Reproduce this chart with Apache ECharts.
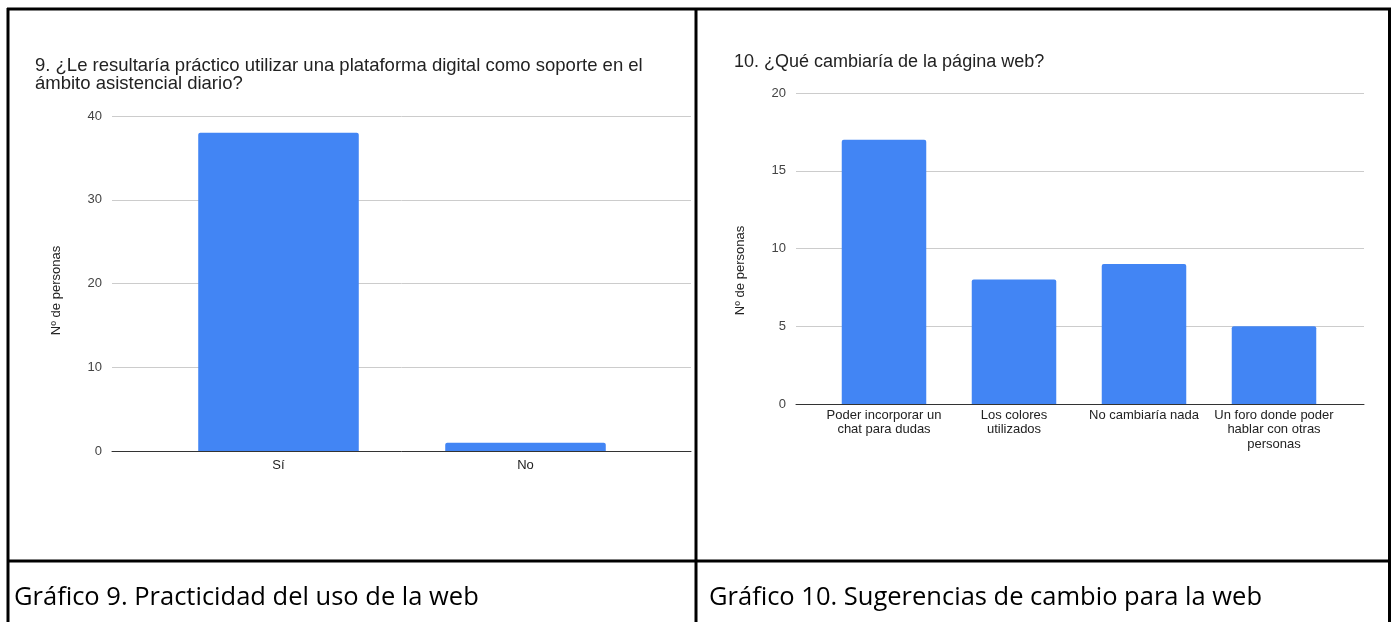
<!DOCTYPE html>
<html>
<head>
<meta charset="utf-8">
<script src="https://cdn.jsdelivr.net/npm/echarts@6/dist/echarts.min.js"></script>
<style>
html,body{margin:0;padding:0;background:#fff;}
#c{width:1396px;height:622px;}
</style>
</head>
<body>
<div id="c"></div>
<script>
// Chart 9 data
const cats9 = ['Sí', 'No'];
const vals9 = [38, 1];
const title9 = '9. ¿Le resultaría práctico utilizar una plataforma digital como soporte en el\námbito asistencial diario?';
const caption9 = 'Gráfico 9. Practicidad del uso de la web';

// Chart 10 data
const cats10 = ['Poder incorporar un chat para dudas', 'Los colores utilizados', 'No cambiaría nada', 'Un foro donde poder hablar con otras personas'];
const tickLabels10 = ['Poder incorporar un\nchat para dudas', 'Los colores\nutilizados', 'No cambiaría nada', 'Un foro donde poder\nhablar con otras\npersonas'];
const vals10 = [17, 8, 9, 5];
const title10 = '10. ¿Qué cambiaría de la página web?';
const caption10 = 'Gráfico 10. Sugerencias de cambio para la web';

const yName = 'Nº de personas';
const FONT = '"Liberation Sans", Arial, sans-serif';
const CAPFONT = '"Open Sans", "Noto Sans", sans-serif';
const BLUE = '#4285f4';

const chart = echarts.init(document.getElementById('c'), null, {renderer: 'canvas'});

const lbl = {color: '#444', fontFamily: FONT, fontSize: 13};

const option = {
  animation: false,
  backgroundColor: '#fff',
  title: [
    {text: title9, left: 30, top: 52, textStyle: {fontFamily: FONT, fontSize: 18.5, fontWeight: 'normal', color: '#222', lineHeight: 18}},
    {text: title10, left: 729, top: 48, textStyle: {fontFamily: FONT, fontSize: 18, fontWeight: 'normal', color: '#222', lineHeight: 18}},
    {text: caption9, left: 9, top: 578, textStyle: {fontFamily: CAPFONT, fontSize: 25.5, fontWeight: 'normal', color: '#000', lineHeight: 30}},
    {text: caption10, left: 704, top: 578, textStyle: {fontFamily: CAPFONT, fontSize: 25.5, fontWeight: 'normal', color: '#000', lineHeight: 30}}
  ],
  grid: [
    {left: 112, right: 705, top: 116, bottom: 171},   // chart 9 frame
    {left: 155, right: 747, top: 116, bottom: 171},   // chart 9 bars
    {left: 796, right: 32, top: 93, bottom: 218},     // chart 10 frame
    {left: 819, right: 57, top: 93, bottom: 218}      // chart 10 bars
  ],
  xAxis: [
    {type: 'category', gridIndex: 0, data: cats9, axisLabel: {show: false}, axisTick: {show: false},
     axisLine: {lineStyle: {color: '#333', width: 1}}, z: 3},
    {type: 'category', gridIndex: 1, data: cats9, axisTick: {show: false}, axisLine: {show: false},
     axisLabel: {color: '#222', fontFamily: FONT, fontSize: 13, margin: 8}},
    {type: 'category', gridIndex: 2, data: cats10, axisLabel: {show: false}, axisTick: {show: false},
     axisLine: {lineStyle: {color: '#333', width: 1}}, z: 3},
    {type: 'category', gridIndex: 3, data: cats10, axisTick: {show: false}, axisLine: {show: false},
     axisLabel: {color: '#222', fontFamily: FONT, fontSize: 13, margin: 4, lineHeight: 14.5, interval: 0,
       formatter: (v, i) => tickLabels10[i]}}
  ],
  yAxis: [
    {type: 'value', gridIndex: 0, min: 0, max: 40, interval: 10,
     axisLabel: Object.assign({margin: 10}, lbl), axisLine: {show: false}, axisTick: {show: false},
     splitLine: {lineStyle: {color: '#ccc'}},
     name: yName, nameLocation: 'middle', nameGap: 49, nameRotate: 90,
     nameTextStyle: {color: '#222', fontFamily: FONT, fontSize: 13, padding: [0, 14, 0, 0]}},
    {type: 'value', gridIndex: 1, min: 0, max: 40, interval: 10, show: false},
    {type: 'value', gridIndex: 2, min: 0, max: 20, interval: 5,
     axisLabel: Object.assign({margin: 10}, lbl), axisLine: {show: false}, axisTick: {show: false},
     splitLine: {lineStyle: {color: '#ccc'}},
     name: yName, nameLocation: 'middle', nameGap: 49, nameRotate: 90,
     nameTextStyle: {color: '#222', fontFamily: FONT, fontSize: 13, padding: [0, 44, 0, 0]}},
    {type: 'value', gridIndex: 3, min: 0, max: 20, interval: 5, show: false}
  ],
  series: [
    {type: 'bar', xAxisIndex: 1, yAxisIndex: 1, data: vals9, barCategoryGap: '35%',
     itemStyle: {color: BLUE, borderRadius: [2, 2, 0, 0]}},
    {type: 'bar', xAxisIndex: 3, yAxisIndex: 3, data: vals10, barCategoryGap: '35%',
     itemStyle: {color: BLUE, borderRadius: [2, 2, 0, 0]}}
  ],
  graphic: [
    {type: 'line', shape: {x1: 7, y1: 9, x2: 1391, y2: 9}, style: {stroke: '#000', lineWidth: 3}},
    {type: 'line', shape: {x1: 8, y1: 8, x2: 8, y2: 622}, style: {stroke: '#000', lineWidth: 3}},
    {type: 'line', shape: {x1: 696, y1: 8, x2: 696, y2: 622}, style: {stroke: '#000', lineWidth: 3}},
    {type: 'line', shape: {x1: 1389.5, y1: 8, x2: 1389.5, y2: 622}, style: {stroke: '#000', lineWidth: 3}},
    {type: 'line', shape: {x1: 7, y1: 561, x2: 1391, y2: 561}, style: {stroke: '#000', lineWidth: 3}}
  ]
};
chart.setOption(option);
</script>
</body>
</html>
